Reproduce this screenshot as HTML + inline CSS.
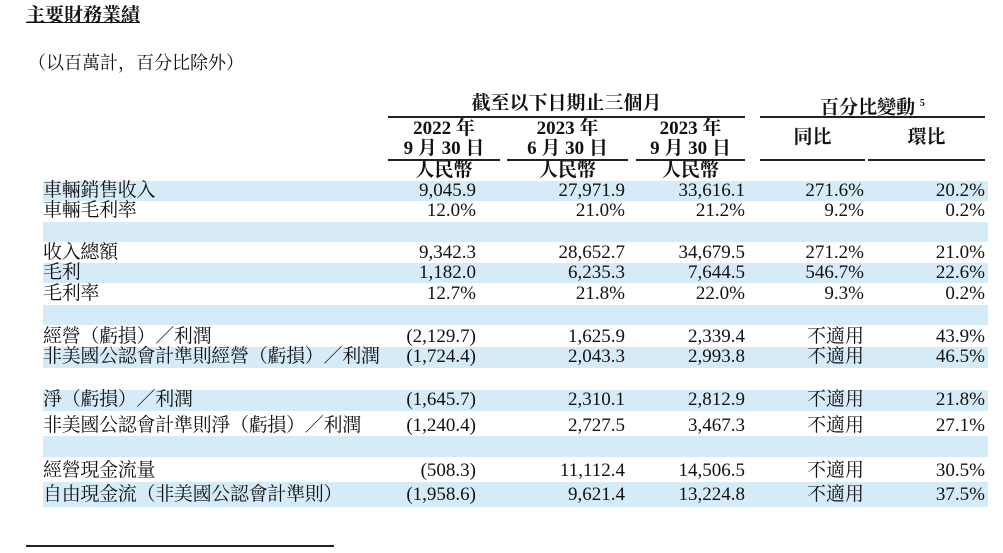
<!DOCTYPE html>
<html><head><meta charset="utf-8"><style>
body{margin:0;width:1003px;height:553px;background:#fff;position:relative;overflow:hidden;font-family:"Liberation Serif","Noto Serif CJK SC",serif;color:#111;}
.a{position:absolute;white-space:nowrap;line-height:20px;font-size:19px;}
.band{position:absolute;left:43px;width:945px;background:#d5ebf8;}
.ln{position:absolute;height:2px;background:#222;}
.r{text-align:right;}
.c{text-align:center;}
.b{font-weight:bold;}
.l{letter-spacing:-0.3px;}
</style></head><body>
<div class="a b" style="left:26px;top:6px;font-size:19px;text-decoration:underline;">主要財務業績</div>
<div class="a" style="left:28px;top:53px;font-size:18px;">（以百萬計，百分比除外）</div>

<div class="a b c" style="left:388px;width:357px;top:94px;">截至以下日期止三個月</div>
<div class="a b c" style="left:760px;width:225px;top:94px;">百分比變動 <sup style="font-size:10px">5</sup></div>
<div class="ln" style="left:388px;width:357px;top:116px;"></div>
<div class="ln" style="left:760px;width:225px;top:116px;"></div>

<div class="a b c" style="left:388px;width:112px;top:119px;">2022 年<br>9 月 30 日</div>
<div class="a b c" style="left:507px;width:121px;top:119px;">2023 年<br>6 月 30 日</div>
<div class="a b c" style="left:636px;width:109px;top:119px;">2023 年<br>9 月 30 日</div>
<div class="a b c" style="left:760px;width:105px;top:128px;">同比</div>
<div class="a b c" style="left:868px;width:117px;top:128px;">環比</div>
<div class="ln" style="left:388px;width:112px;top:159px;"></div>
<div class="ln" style="left:507px;width:121px;top:159px;"></div>
<div class="ln" style="left:636px;width:109px;top:159px;"></div>
<div class="ln" style="left:760px;width:105px;top:159px;"></div>
<div class="ln" style="left:868px;width:117px;top:159px;"></div>
<div class="a b c" style="left:388px;width:112px;top:161px;">人民幣</div>
<div class="a b c" style="left:507px;width:121px;top:161px;">人民幣</div>
<div class="a b c" style="left:636px;width:109px;top:161px;">人民幣</div>

<div class="band" style="top:181px;height:20px;"></div>
<div class="band" style="top:222px;height:20px;"></div>
<div class="band" style="top:263px;height:20px;"></div>
<div class="band" style="top:305px;height:20px;"></div>
<div class="band" style="top:347px;height:21px;"></div>
<div class="band" style="top:390px;height:21px;"></div>
<div class="band" style="top:436px;height:21px;"></div>
<div class="band" style="top:482px;height:25px;"></div>

<div class="ln" style="left:26px;width:308px;top:545px;height:1.5px;"></div>

<div class="a l" style="left:43px;top:181px;">車輛銷售收入</div>
<div class="a r" style="right:527px;top:181px;">9,045.9</div>
<div class="a r" style="right:378px;top:181px;">27,971.9</div>
<div class="a r" style="right:258px;top:181px;">33,616.1</div>
<div class="a r" style="right:139px;top:181px;">271.6%</div>
<div class="a r" style="right:18px;top:181px;">20.2%</div>

<div class="a l" style="left:43px;top:201px;">車輛毛利率</div>
<div class="a r" style="right:527px;top:201px;">12.0%</div>
<div class="a r" style="right:378px;top:201px;">21.0%</div>
<div class="a r" style="right:258px;top:201px;">21.2%</div>
<div class="a r" style="right:139px;top:201px;">9.2%</div>
<div class="a r" style="right:18px;top:201px;">0.2%</div>

<div class="a l" style="left:43px;top:243px;">收入總額</div>
<div class="a r" style="right:527px;top:243px;">9,342.3</div>
<div class="a r" style="right:378px;top:243px;">28,652.7</div>
<div class="a r" style="right:258px;top:243px;">34,679.5</div>
<div class="a r" style="right:139px;top:243px;">271.2%</div>
<div class="a r" style="right:18px;top:243px;">21.0%</div>

<div class="a l" style="left:43px;top:263px;">毛利</div>
<div class="a r" style="right:527px;top:263px;">1,182.0</div>
<div class="a r" style="right:378px;top:263px;">6,235.3</div>
<div class="a r" style="right:258px;top:263px;">7,644.5</div>
<div class="a r" style="right:139px;top:263px;">546.7%</div>
<div class="a r" style="right:18px;top:263px;">22.6%</div>

<div class="a l" style="left:43px;top:284px;">毛利率</div>
<div class="a r" style="right:527px;top:284px;">12.7%</div>
<div class="a r" style="right:378px;top:284px;">21.8%</div>
<div class="a r" style="right:258px;top:284px;">22.0%</div>
<div class="a r" style="right:139px;top:284px;">9.3%</div>
<div class="a r" style="right:18px;top:284px;">0.2%</div>

<div class="a l" style="left:43px;top:327px;">經營（虧損）／利潤</div>
<div class="a r" style="right:527px;top:327px;">(2,129.7)</div>
<div class="a r" style="right:378px;top:327px;">1,625.9</div>
<div class="a r" style="right:258px;top:327px;">2,339.4</div>
<div class="a r" style="right:139px;top:327px;">不適用</div>
<div class="a r" style="right:18px;top:327px;">43.9%</div>

<div class="a l" style="left:43px;top:347px;">非美國公認會計準則經營（虧損）／利潤</div>
<div class="a r" style="right:527px;top:347px;">(1,724.4)</div>
<div class="a r" style="right:378px;top:347px;">2,043.3</div>
<div class="a r" style="right:258px;top:347px;">2,993.8</div>
<div class="a r" style="right:139px;top:347px;">不適用</div>
<div class="a r" style="right:18px;top:347px;">46.5%</div>

<div class="a l" style="left:43px;top:390px;">淨（虧損）／利潤</div>
<div class="a r" style="right:527px;top:390px;">(1,645.7)</div>
<div class="a r" style="right:378px;top:390px;">2,310.1</div>
<div class="a r" style="right:258px;top:390px;">2,812.9</div>
<div class="a r" style="right:139px;top:390px;">不適用</div>
<div class="a r" style="right:18px;top:390px;">21.8%</div>

<div class="a l" style="left:43px;top:416px;">非美國公認會計準則淨（虧損）／利潤</div>
<div class="a r" style="right:527px;top:416px;">(1,240.4)</div>
<div class="a r" style="right:378px;top:416px;">2,727.5</div>
<div class="a r" style="right:258px;top:416px;">3,467.3</div>
<div class="a r" style="right:139px;top:416px;">不適用</div>
<div class="a r" style="right:18px;top:416px;">27.1%</div>

<div class="a l" style="left:43px;top:461px;">經營現金流量</div>
<div class="a r" style="right:527px;top:461px;">(508.3)</div>
<div class="a r" style="right:378px;top:461px;">11,112.4</div>
<div class="a r" style="right:258px;top:461px;">14,506.5</div>
<div class="a r" style="right:139px;top:461px;">不適用</div>
<div class="a r" style="right:18px;top:461px;">30.5%</div>

<div class="a l" style="left:43px;top:485px;">自由現金流（非美國公認會計準則）</div>
<div class="a r" style="right:527px;top:485px;">(1,958.6)</div>
<div class="a r" style="right:378px;top:485px;">9,621.4</div>
<div class="a r" style="right:258px;top:485px;">13,224.8</div>
<div class="a r" style="right:139px;top:485px;">不適用</div>
<div class="a r" style="right:18px;top:485px;">37.5%</div>
</body></html>
